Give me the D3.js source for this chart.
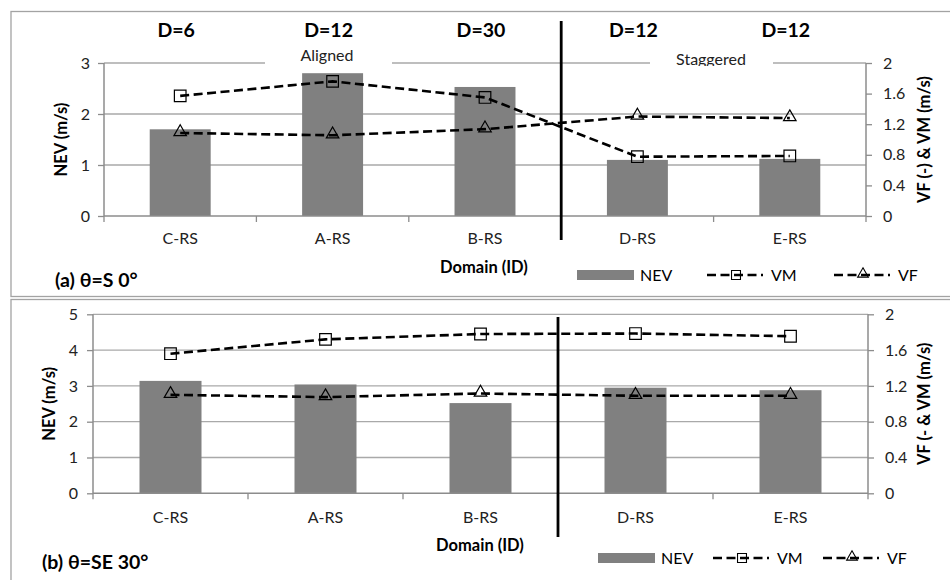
<!DOCTYPE html>
<html>
<head>
<meta charset="utf-8">
<script src="https://cdn.jsdelivr.net/npm/d3@7/dist/d3.min.js"></script>
<style>
  html, body { margin: 0; padding: 0; background: #fff; }
  svg { display: block; font-family: Lato, "Open Sans", sans-serif; }
</style>
</head>
<body>
<svg id="chart" width="950" height="580"></svg>
<script>
// Domain IDs along the x axis
const categories = ["C-RS", "A-RS", "B-RS", "D-RS", "E-RS"];
// Spacing label shown above each domain in panel (a)
const spacingLabels = ["D=6", "D=12", "D=30", "D=12", "D=12"];

// Panel (a): wind direction S 0°
const nevS0 = [1.70, 2.80, 2.53, 1.10, 1.12];
const vmS0  = [1.57, 1.76, 1.55, 0.775, 0.785];
const vfS0  = [1.085, 1.055, 1.135, 1.30, 1.28];

// Panel (b): wind direction SE 30°
const nevSE30 = [3.14, 3.04, 2.52, 2.95, 2.88];
const vmSE30  = [1.56, 1.72, 1.78, 1.785, 1.755];
const vfSE30  = [1.10, 1.075, 1.115, 1.09, 1.09];

// Axis tick values
const leftTicksA  = [0, 1, 2, 3];
const leftTicksB  = [0, 1, 2, 3, 4, 5];
const rightTicks  = [0, 0.4, 0.8, 1.2, 1.6, 2];

const svg = d3.select("#chart");
const GRID = "#a9a9a9", AXIS = "#8c8c8c", BAR = "#808080", BORDER = "#a3a3a3";

// panel frames
svg.append("rect").attr("x", 11).attr("y", 11.5).attr("width", 960).attr("height", 285)
  .attr("fill", "none").attr("stroke", BORDER).attr("stroke-width", 1.3);
svg.append("rect").attr("x", 11).attr("y", 299.5).attr("width", 960).attr("height", 300)
  .attr("fill", "none").attr("stroke", BORDER).attr("stroke-width", 1.3);

function drawPanel(cfg) {
  const g = svg.append("g");
  const x = d3.scaleBand().domain(categories).range([cfg.left, cfg.right])
    .paddingInner(0.6).paddingOuter(0.3);
  const yL = d3.scaleLinear().domain([0, cfg.leftMax]).range([cfg.bottom, cfg.top]);
  const yR = d3.scaleLinear().domain([0, 2]).range([cfg.bottom, cfg.top]);
  const cx = c => x(c) + x.bandwidth() / 2;

  // horizontal gridlines
  g.append("g").selectAll("line").data(cfg.leftTicks.filter(t => t > 0)).join("line")
    .attr("x1", cfg.left).attr("x2", cfg.right)
    .attr("y1", d => yL(d)).attr("y2", d => yL(d))
    .attr("stroke", GRID).attr("stroke-width", 1.3);

  // bars
  g.append("g").selectAll("rect").data(cfg.nev).join("rect")
    .attr("x", (d, i) => x(categories[i]))
    .attr("width", x.bandwidth())
    .attr("y", d => yL(d))
    .attr("height", d => cfg.bottom - yL(d))
    .attr("fill", BAR);

  // left axis
  const axL = g.append("g").attr("transform", `translate(${cfg.left},0)`)
    .call(d3.axisLeft(yL).tickValues(cfg.leftTicks).tickFormat(d3.format("d")).tickSize(6).tickPadding(cfg.leftPad));
  // right axis
  const axR = g.append("g").attr("transform", `translate(${cfg.right},0)`)
    .call(d3.axisRight(yR).tickValues(rightTicks).tickFormat(d => d === 0 || d === 2 ? String(d) : d.toFixed(1)).tickSize(6).tickPadding(11));
  // bottom axis: labels at band centres, ticks at band boundaries
  const axB = g.append("g").attr("transform", `translate(0,${cfg.bottom})`)
    .call(d3.axisBottom(x).tickSize(0).tickPadding(cfg.xPad));
  [axL, axR, axB].forEach(a => {
    a.select(".domain").attr("stroke", AXIS).attr("stroke-width", 1.5);
    a.selectAll(".tick line").attr("stroke", AXIS).attr("stroke-width", 1.3);
    a.selectAll(".tick text").attr("fill", "#222").attr("font-size", 16).attr("font-family", "Lato, sans-serif");
  });
  axL.select(".domain").attr("d", `M0,${cfg.bottom}V${cfg.top}`);
  axR.select(".domain").attr("d", `M0,${cfg.bottom}V${cfg.top}`);
  axB.select(".domain").attr("d", `M${cfg.left},0H${cfg.right}`);
  const bounds = d3.range(categories.length + 1).map(i => cfg.left + i * x.step());
  g.append("g").selectAll("line").data(bounds).join("line")
    .attr("x1", d => d).attr("x2", d => d)
    .attr("y1", cfg.bottom).attr("y2", cfg.bottom + 6)
    .attr("stroke", AXIS).attr("stroke-width", 1.3);

  // aligned / staggered separator
  const sepX = (cx(categories[2]) + cx(categories[3])) / 2;
  g.append("line").attr("x1", sepX).attr("x2", sepX)
    .attr("y1", cfg.sepTop).attr("y2", cfg.sepBottom)
    .attr("stroke", "#000").attr("stroke-width", 2.8);

  // dashed series with hollow markers
  const line = d3.line().x((d, i) => cx(categories[i])).y(d => yR(d));
  [cfg.vm, cfg.vf].forEach(s => {
    g.append("path").attr("d", line(s)).attr("fill", "none")
      .attr("stroke", "#000").attr("stroke-width", 2.6).attr("stroke-dasharray", "9,4.5");
  });
  const sq = d3.symbol().type(d3.symbolSquare).size(135);
  const tri = d3.symbol().type(d3.symbolTriangle).size(68);
  g.append("g").selectAll("path").data(cfg.vm).join("path")
    .attr("d", sq).attr("transform", (d, i) => `translate(${cx(categories[i])},${yR(d)})`)
    .attr("fill", "none").attr("stroke", "#000").attr("stroke-width", 1.2);
  g.append("g").selectAll("path").data(cfg.vf).join("path")
    .attr("d", tri).attr("transform", (d, i) => `translate(${cx(categories[i])},${yR(d) - 1})`)
    .attr("fill", "none").attr("stroke", "#000").attr("stroke-width", 1.2);

  // axis titles
  g.append("text").attr("transform", `translate(${cfg.leftTitleX},${(cfg.top + cfg.bottom) / 2}) rotate(-90)`)
    .attr("text-anchor", "middle").attr("font-weight", "bold").attr("font-size", 16.5).text("NEV (m/s)");
  g.append("text").attr("transform", `translate(${cfg.rightTitleX},${(cfg.top + cfg.bottom) / 2}) rotate(-90)`)
    .attr("text-anchor", "middle").attr("font-weight", "bold").attr("font-size", 16.5).text(cfg.rightTitle);
  g.append("text").attr("x", cfg.domainX).attr("y", cfg.domainY)
    .attr("text-anchor", "middle").attr("font-weight", "bold").attr("font-size", 16.5).text("Domain (ID)");
  g.append("text").attr("x", cfg.titleX).attr("y", cfg.titleY)
    .attr("font-weight", "bold").attr("font-size", 19.5).text(cfg.title);

  // legend
  const lg = g.append("g").attr("font-size", 16);
  const ly = cfg.legendY;
  lg.append("rect").attr("x", cfg.legX[0]).attr("y", ly - 5).attr("width", 57).attr("height", 10).attr("fill", BAR);
  lg.append("text").attr("x", cfg.legX[0] + 63).attr("y", ly + 6).text("NEV");
  [[cfg.legX[1], d3.symbolSquare, 80, "VM", 0], [cfg.legX[2], d3.symbolTriangle, 50, "VF", -1]].forEach(([lx, type, size, name, dy]) => {
    lg.append("line").attr("x1", lx).attr("x2", lx + 56).attr("y1", ly).attr("y2", ly)
      .attr("stroke", "#000").attr("stroke-width", 2.6).attr("stroke-dasharray", "9,4.5");
    lg.append("path").attr("d", d3.symbol().type(type).size(size))
      .attr("transform", `translate(${lx + 29},${ly + dy})`)
      .attr("fill", "#fff").attr("fill-opacity", 0).attr("stroke", "#000").attr("stroke-width", 1.1);
    lg.append("text").attr("x", lx + 64).attr("y", ly + 6).text(name);
  });

  return { x, cx, yL, g };
}

// Panel (a)
const pA = drawPanel({
  left: 104, right: 866, top: 63, bottom: 216, leftMax: 3, leftTicks: leftTicksA,
  leftPad: 8, xPad: 17, nev: nevS0, vm: vmS0, vf: vfS0,
  sepTop: 21, sepBottom: 240, leftTitleX: 67, rightTitleX: 930,
  rightTitle: "VF (-) & VM (m/s)", domainX: 484, domainY: 273,
  title: "(a) θ=S 0°", titleX: 55, titleY: 287,
  legendY: 275, legX: [577, 707, 834]
});

// spacing labels above the bars
pA.g.append("g").selectAll("text").data(spacingLabels).join("text")
  .attr("x", (d, i) => pA.cx(categories[i]) - 4).attr("y", 37)
  .attr("text-anchor", "middle").attr("font-weight", "bold").attr("font-size", 19.5)
  .text(d => d);

// group captions on the top gridline
const clip = svg.append("defs").append("clipPath").attr("id", "capClip");
clip.append("rect").attr("x", 0).attr("y", 0).attr("width", 950).attr("height", 66);
[["Aligned", 327, 265, 392, 61], ["Staggered", 711, 650, 773, 65]].forEach(([t, tx, x0, x1, by]) => {
  const cg = pA.g.append("g").attr("clip-path", "url(#capClip)");
  cg.append("rect").attr("x", x0).attr("y", 48).attr("width", x1 - x0).attr("height", 18).attr("fill", "#fff");
  cg.append("text").attr("x", tx).attr("y", by).attr("text-anchor", "middle")
    .attr("font-size", 16).attr("fill", "#222").text(t);
});

// Panel (b)
drawPanel({
  left: 93, right: 868, top: 314.3, bottom: 493.3, leftMax: 5, leftTicks: leftTicksB,
  leftPad: 9, xPad: 18, nev: nevSE30, vm: vmSE30, vf: vfSE30,
  sepTop: 317, sepBottom: 537, leftTitleX: 55, rightTitleX: 930,
  rightTitle: "VF (- & VM (m/s)", domainX: 480, domainY: 551,
  title: "(b) θ=SE 30°", titleX: 42, titleY: 569,
  legendY: 558, legX: [598, 713, 823]
});
</script>
</body>
</html>
